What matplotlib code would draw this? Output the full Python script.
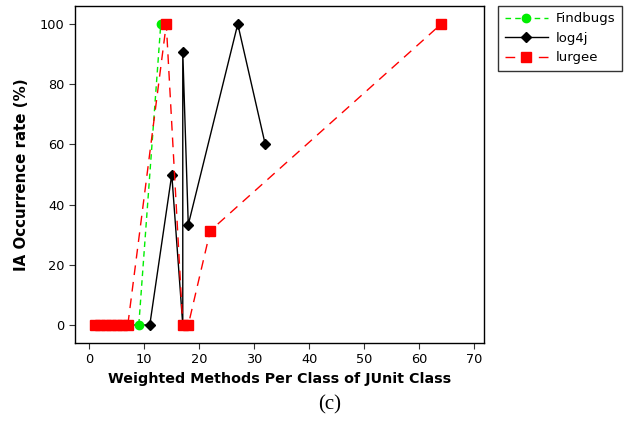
import matplotlib
matplotlib.use("Agg")
import matplotlib.pyplot as plt

find_x = [2, 5, 9, 13]
find_y = [0, 0, 0, 100]
log_x = [3, 6, 11, 15, 17, 17, 18, 27, 32]
log_y = [0, 0, 0, 50, 0, 90.7, 33.3, 100, 60]
lur_x = [1, 2, 3, 4, 5, 6, 7, 14, 17, 18, 22, 64]
lur_y = [0, 0, 0, 0, 0, 0, 0, 100, 0, 0, 31.3, 100]

fig = plt.figure(figsize=(6.32, 4.25), dpi=100)
ax = fig.add_axes([0.1187, 0.1936, 0.6472, 0.793])

l1, = ax.plot(find_x, find_y, color="#00ee00", linestyle=(0, (4, 3)), linewidth=1.0,
              marker="o", markersize=6, label="Findbugs", zorder=3)
l2, = ax.plot(log_x, log_y, color="black", linestyle="-", linewidth=1.0,
              marker="D", markersize=5.5, label="log4j", zorder=2)
l3, = ax.plot(lur_x, lur_y, color="red", linestyle=(0, (7, 5)), linewidth=1.0,
              marker="s", markersize=6.5, label="lurgee", zorder=4)

ax.set_xlim(-2.6, 71.8)
ax.set_ylim(-5.9, 106.1)
ax.set_xticks(range(0, 71, 10))
ax.set_yticks(range(0, 101, 20))
ax.tick_params(direction="out", length=4, labelsize=9.3, colors="black", color="#333333")
for s in ax.spines.values():
    s.set_linewidth(1.0)

ax.set_xlabel("Weighted Methods Per Class of JUnit Class", fontsize=10.3, fontweight="bold", labelpad=4)
ax.set_ylabel("IA Occurrence rate (%)", fontsize=10.8, fontweight="bold", labelpad=8)

leg = fig.legend(handles=[l1, l2, l3], loc="upper left", bbox_to_anchor=(0.788, 0.9866),
                 fontsize=9.5, frameon=True, fancybox=False, edgecolor="black",
                 handlelength=3.3, borderpad=0.5, labelspacing=0.5, handletextpad=0.6,
                 borderaxespad=0)
leg.get_frame().set_linewidth(1.0)

fig.text(0.522, 0.047, "(c)", fontsize=15, family="Liberation Serif", ha="center", va="center")

fig.savefig("out.png", dpi=100)
